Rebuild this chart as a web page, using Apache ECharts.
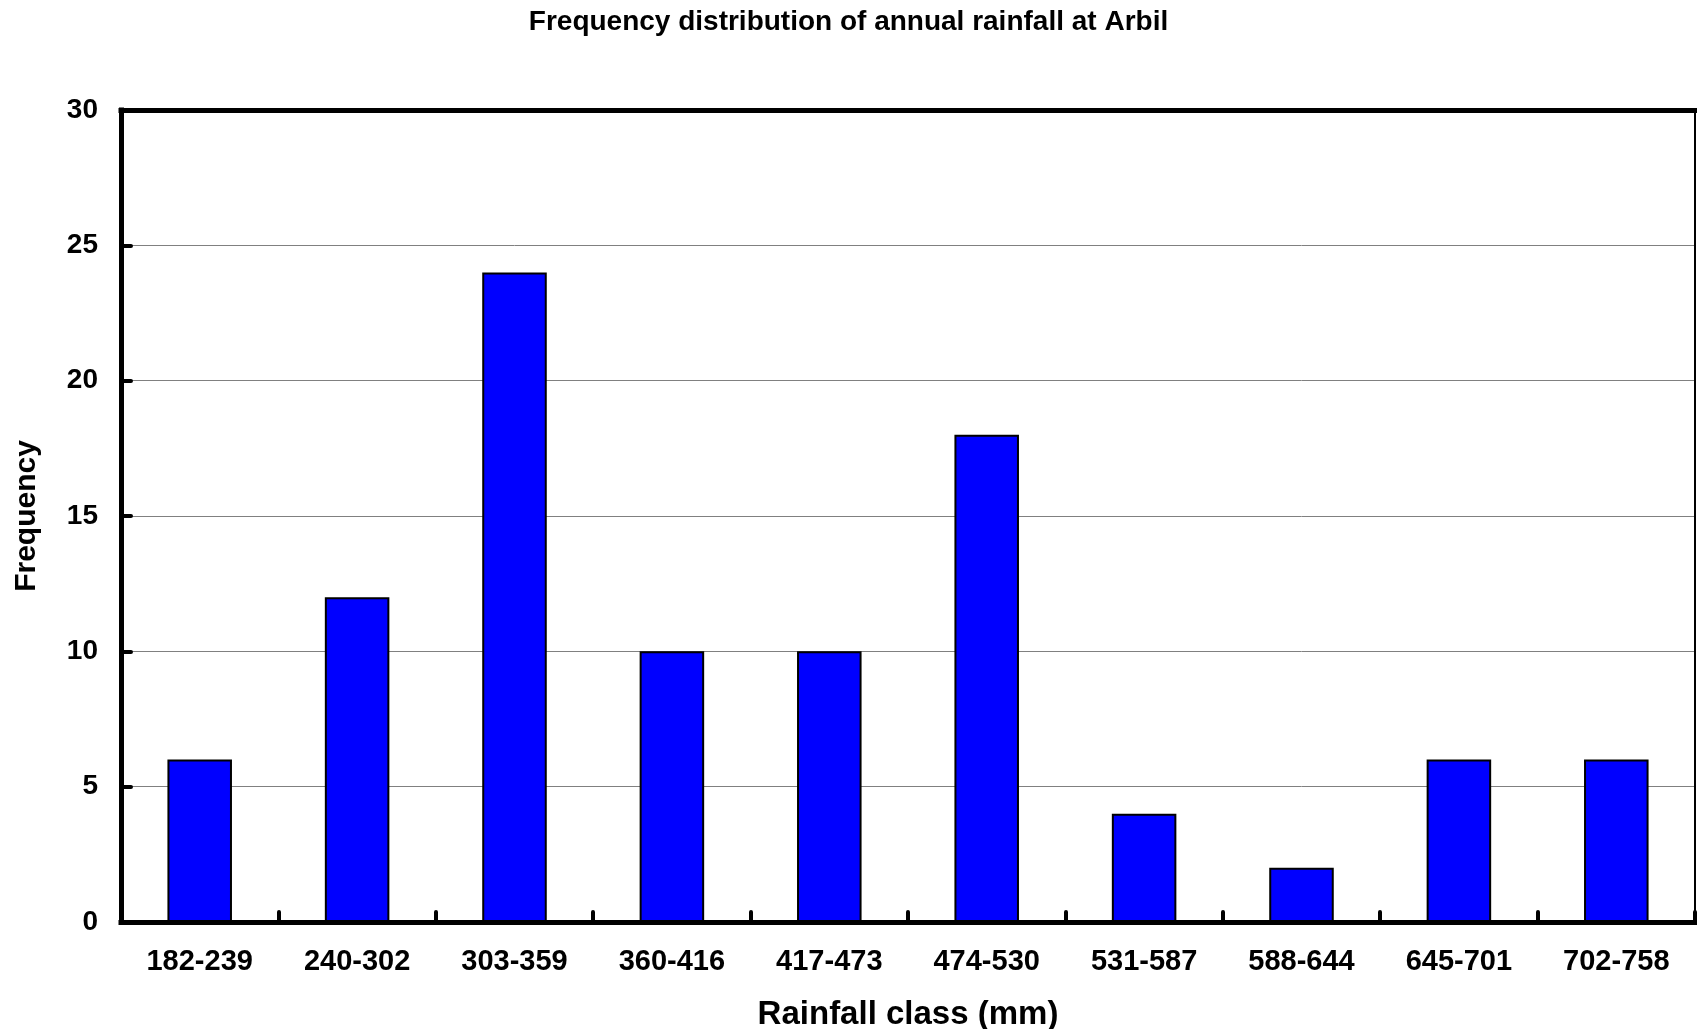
<!DOCTYPE html>
<html>
<head>
<meta charset="utf-8">
<script src="https://cdn.jsdelivr.net/npm/echarts@6/dist/echarts.min.js"></script>
<style>
html,body{margin:0;padding:0;background:#fff;}
#chart{width:1697px;height:1029px;}
</style>
</head>
<body>
<div id="chart"></div>
<script>
const titleText = 'Frequency distribution of annual rainfall at Arbil';
const categories = ['182-239', '240-302', '303-359', '360-416', '417-473', '474-530', '531-587', '588-644', '645-701', '702-758'];
const frequency = [6, 12, 24, 10, 10, 18, 4, 2, 6, 6];
const yMin = 0, yMax = 30, yStep = 5;
const xName = 'Rainfall class (mm)';
const yName = 'Frequency';

const FONT = '"Liberation Sans", Arial, Helvetica, sans-serif';
const chart = echarts.init(document.getElementById('chart'), null, {renderer: 'canvas'});
chart.setOption({
  animation: false,
  backgroundColor: '#ffffff',
  title: {
    text: titleText,
    left: 'center',
    top: 3,
    textStyle: {fontFamily: FONT, fontWeight: 'bold', fontSize: 28, color: '#000'}
  },
  grid: {left: 121, right: 2, top: 110, bottom: 107, containLabel: false, outerBoundsMode: 'none'},
  xAxis: [{
    type: 'category',
    data: categories,
    position: 'bottom',
    boundaryGap: true,
    name: xName,
    nameLocation: 'middle',
    nameGap: 76,
    nameTextStyle: {fontFamily: FONT, fontWeight: 'bold', fontSize: 33, color: '#000'},
    axisLine: {show: true, onZero: false, lineStyle: {color: '#000', width: 5, cap: 'square'}},
    axisTick: {show: true, inside: true, length: 10, lineStyle: {color: '#000', width: 4, cap: 'round'}},
    axisLabel: {margin: 25, fontFamily: FONT, fontWeight: 'bold', fontSize: 29, color: '#000', interval: 0},
    splitLine: {show: false}
  }, {
    type: 'category',
    data: categories,
    position: 'top',
    axisLine: {show: true, onZero: false, lineStyle: {color: '#000', width: 5, cap: 'square'}},
    axisTick: {show: false},
    axisLabel: {show: false},
    splitLine: {show: false}
  }],
  yAxis: [{
    type: 'value',
    min: yMin,
    max: yMax,
    interval: yStep,
    position: 'left',
    name: yName,
    nameLocation: 'middle',
    nameGap: 79,
    nameTextStyle: {fontFamily: FONT, fontWeight: 'bold', fontSize: 30, color: '#000'},
    axisLine: {show: true, onZero: false, lineStyle: {color: '#000', width: 5, cap: 'square'}},
    axisTick: {show: true, inside: true, length: 10, lineStyle: {color: '#000', width: 4, cap: 'round'}},
    axisLabel: {margin: 23, fontFamily: FONT, fontWeight: 'bold', fontSize: 28, color: '#000'},
    splitLine: {show: true, lineStyle: {color: '#808080', width: 1}}
  }, {
    type: 'value',
    min: yMin,
    max: yMax,
    interval: yStep,
    position: 'right',
    axisLine: {show: true, onZero: false, lineStyle: {color: '#000', width: 2}},
    axisTick: {show: false},
    axisLabel: {show: false},
    splitLine: {show: false}
  }],
  series: [{
    type: 'bar',
    xAxisIndex: 0,
    yAxisIndex: 0,
    data: frequency,
    barWidth: '41%',
    itemStyle: {color: '#0000ff', borderColor: '#000', borderWidth: 2}
  }]
});
</script>
</body>
</html>
